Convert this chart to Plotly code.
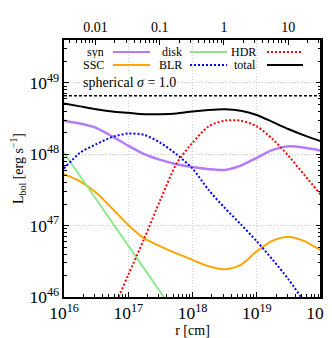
import numpy as np
import plotly.graph_objects as go

# log10 r [cm] sample positions
log_r = [16.0, 16.25, 16.5, 16.75, 17.0, 17.25, 17.5, 17.75, 18.0, 18.25,
         18.5, 18.75, 19.0, 19.25, 19.5, 19.75, 20.0]

# log10 L_bol [erg/s]
syn_log = [48.47, 48.43, 48.37, 48.25, 48.12, 48.00, 47.92, 47.86, 47.82, 47.79,
           47.78, 47.84, 47.95, 48.06, 48.11, 48.09, 48.05]
ssc_log = [47.72, 47.62, 47.46, 47.24, 47.01, 46.82, 46.71, 46.61, 46.52, 46.43,
           46.39, 46.45, 46.64, 46.79, 46.84, 46.78, 46.65]
blr_log = [47.80, 48.02, 48.14, 48.24, 48.29, 48.27, 48.16, 48.00, 47.80, 47.50,
           47.25, 47.02, 46.78, 46.52, 46.24, 45.92, 45.60]
total_log = [48.71, 48.67, 48.63, 48.60, 48.58, 48.56, 48.56, 48.57, 48.60, 48.62,
             48.63, 48.61, 48.55, 48.45, 48.35, 48.26, 48.18]

disk_log_r = [16.0, 16.5, 17.0, 17.5, 17.75]
disk_log = [48.02, 47.37, 46.72, 46.07, 45.74]

hdr_log_r = [16.7, 16.85, 17.0, 17.24, 17.5, 17.76, 18.0, 18.25, 18.5, 18.75,
             19.0, 19.25, 19.5, 19.75, 20.0]
hdr_log = [45.70, 46.00, 46.31, 46.80, 47.36, 47.88, 48.16, 48.39, 48.47, 48.47,
           48.39, 48.21, 47.97, 47.70, 47.43]

spherical_level = 6.6e48
pc_cm = 3.086e18
pc_ticks = [0.01, 0.1, 1, 10]
pc_labels = ["0.01", "0.1", "1", "10"]

FONT = "Liberation Serif"
OFF = 8  # page body margin
DOT = "2px,2px"

def p(v):
    return [10 ** a for a in v]

fig = go.Figure()

series = [
    ("syn", log_r, syn_log, "#b57bff", "solid", 2.5),
    ("SSC", log_r, ssc_log, "#ffa500", "solid", 2),
    ("disk", disk_log_r, disk_log, "#8fe88f", "solid", 2),
    ("BLR", log_r, blr_log, "#0000ff", DOT, 2),
    ("HDR", hdr_log_r, hdr_log, "#ff0000", DOT, 2),
    ("total", log_r, total_log, "#000000", "solid", 2),
]
for name, xr, yv, col, dash, w in series:
    fig.add_trace(go.Scatter(x=p(xr), y=p(yv), mode="lines", name=name,
                             line=dict(color=col, dash=dash, width=w, shape="spline", smoothing=0.8),
                             showlegend=False))

fig.add_trace(go.Scatter(x=[1e16, 1e20], y=[spherical_level, spherical_level], mode="lines",
                         line=dict(color="black", dash="3px,2px", width=1.5), showlegend=False))

# invisible trace to anchor top axis (pc)
fig.add_trace(go.Scatter(x=[1e16 / pc_cm, 1e20 / pc_cm], y=[1e46, 1e46], xaxis="x2",
                         mode="lines", line=dict(width=0), opacity=0, showlegend=False,
                         hoverinfo="skip"))

axis_common = dict(showline=True, linecolor="black", linewidth=2, ticks="inside",
                   tickcolor="black", ticklen=5, tickwidth=1, automargin=False,
                   ticklabeloverflow="allow",
                   tickfont=dict(family=FONT, size=14, color="black"))
grid = dict(showgrid=True, gridcolor="#cccccc", griddash="1px,2px", gridwidth=1)
minor = dict(ticks="inside", ticklen=3, tickcolor="black", dtick="D1", showgrid=False)

fig.update_layout(
    width=332 - OFF, height=338 - OFF,
    margin=dict(l=64 - OFF, r=11, t=40 - OFF, b=41),
    plot_bgcolor="white", paper_bgcolor="white",
    font=dict(family=FONT, color="black"),
    xaxis=dict(type="log", range=[16, 20], dtick=1, exponentformat="power",
               showexponent="all", mirror=False, minor=minor,
               title=dict(text="r [cm]", font=dict(family=FONT, size=14), standoff=0),
               **grid, **axis_common),
    xaxis2=dict(type="log", overlaying="x", side="top",
                range=[np.log10(1e16 / pc_cm), np.log10(1e20 / pc_cm)],
                tickvals=pc_ticks, ticktext=pc_labels, showgrid=False, minor=minor,
                **axis_common),
    yaxis=dict(type="log", range=[46, 49.6], dtick=1, exponentformat="power",
               showexponent="all", mirror="ticks", minor=minor,
               title=dict(text="L<sub>bol</sub> [erg s<sup>−1</sup>]", font=dict(family=FONT, size=14),
                          standoff=4),
               **grid, **axis_common),
)

# right frame line
fig.add_shape(type="line", xref="paper", yref="paper", x0=1, x1=1, y0=0, y1=1,
              line=dict(color="black", width=2))

def px2x(px):
    return (px - 64) / 257

def py2y(py):
    return (297 - py) / 257

# spherical annotation
fig.add_annotation(x=px2x(81), y=py2y(82), xref="paper", yref="paper",
                   text="spherical <i>σ</i> = 1.0", showarrow=False, xanchor="left",
                   yanchor="middle", bgcolor="white",
                   font=dict(family=FONT, size=14, color="black"))

# manual legend (text then sample)
legend_rows = [
    [("syn", 105, 113, 150, "#b57bff", "solid"),
     ("disk", 183, 190, 227, "#8fe88f", "solid"),
     ("HDR", 257, 267, 303, "#ff0000", DOT)],
    [("SSC", 105, 113, 150, "#ffa500", "solid"),
     ("BLR", 183, 190, 227, "#0000ff", DOT),
     ("total", 257, 267, 303, "#000000", "solid")],
]
for row, ypx in zip(legend_rows, [52, 65]):
    for label, tx, l0, l1, col, dash in row:
        fig.add_annotation(x=px2x(tx), y=py2y(ypx), xref="paper", yref="paper",
                           text=label, showarrow=False, xanchor="right", yanchor="middle",
                           borderpad=0, height=12,
                           font=dict(family=FONT, size=12, color="black"))
        fig.add_shape(type="line", xref="paper", yref="paper",
                      x0=px2x(l0), x1=px2x(l1), y0=py2y(ypx), y1=py2y(ypx),
                      line=dict(color=col, dash=dash, width=2))

fig.write_html("out.html")
